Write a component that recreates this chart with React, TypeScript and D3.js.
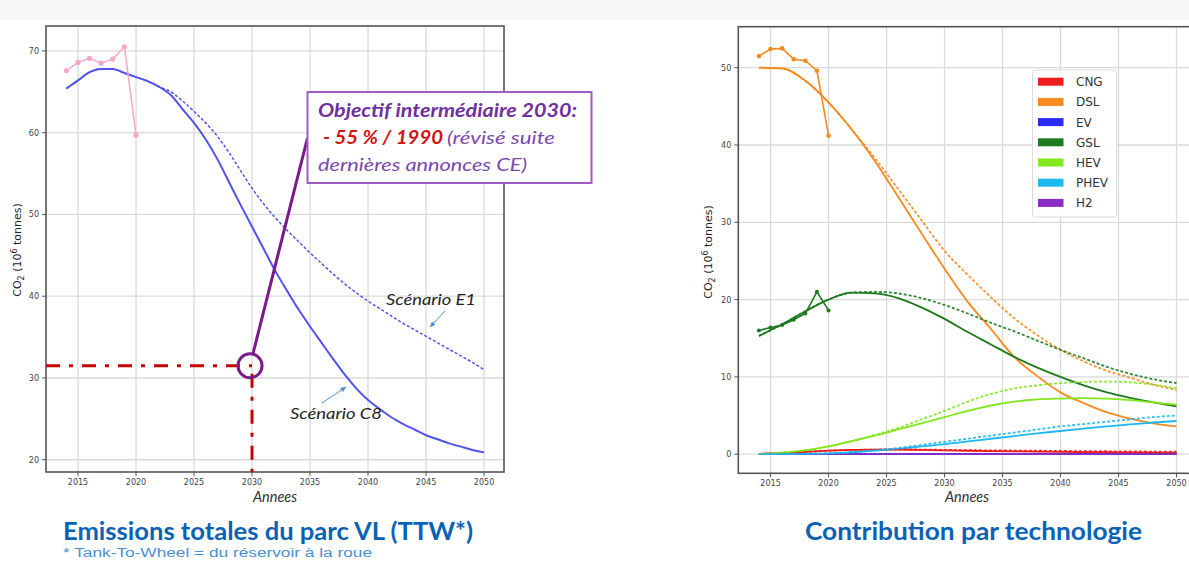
import React from "react";
import * as d3 from "d3";

// ---------- DATA ----------
const histYears = [2014, 2015, 2016, 2017, 2018, 2019, 2020];
const totalHist = [67.6, 68.6, 69.1, 68.5, 69.0, 70.5, 59.7];

const modelYears = [2014, 2015, 2016, 2017, 2018, 2019, 2020, 2021, 2022, 2023, 2024, 2025, 2026, 2027, 2028, 2029, 2030, 2031, 2032, 2033, 2034, 2035, 2036, 2037, 2038, 2039, 2040, 2041, 2042, 2043, 2044, 2045, 2046, 2047, 2048, 2049, 2050];
const scenarioC8 = [65.4, 66.4, 67.4, 67.8, 67.8, 67.3, 66.8, 66.3, 65.6, 64.6, 62.9, 61.2, 59.2, 56.8, 54.0, 51.2, 48.5, 45.8, 43.1, 40.7, 38.4, 36.3, 34.3, 32.3, 30.4, 28.7, 27.3, 26.2, 25.2, 24.4, 23.7, 23.0, 22.5, 22.0, 21.6, 21.2, 20.9];
const scenarioE1 = [65.4, 66.4, 67.4, 67.8, 67.8, 67.3, 66.8, 66.3, 65.6, 65.0, 63.9, 62.6, 61.2, 59.6, 57.6, 55.4, 53.2, 51.3, 49.6, 48.1, 46.7, 45.3, 44.0, 42.7, 41.5, 40.4, 39.4, 38.5, 37.6, 36.7, 35.9, 35.1, 34.3, 33.5, 32.7, 31.9, 31.0];
const target2030Year = 2030;
const target2030Value = 31.5;

const leftXTicks = [2015, 2020, 2025, 2030, 2035, 2040, 2045, 2050];
const leftYTicks = [20, 30, 40, 50, 60, 70];
const rightXTicks = [2015, 2020, 2025, 2030, 2035, 2040, 2045, 2050];
const rightYTicks = [0, 10, 20, 30, 40, 50];

const techNames = ["CNG", "DSL", "EV", "GSL", "HEV", "PHEV", "H2"];
const techColors = ["#ee1c1c", "#f58a1f", "#2b2bf5", "#1e7a1e", "#80e81c", "#1cb8f2", "#8a2cc8"];

const techYears = [2014, 2016, 2018, 2020, 2022, 2024, 2026, 2028, 2030, 2032, 2034, 2036, 2038, 2040, 2042, 2044, 2046, 2048, 2050];
const cngSolid = [0.05, 0.15, 0.3, 0.45, 0.55, 0.6, 0.6, 0.55, 0.5, 0.45, 0.4, 0.37, 0.33, 0.3, 0.27, 0.25, 0.23, 0.21, 0.2];
const cngDashed = [0.05, 0.15, 0.3, 0.45, 0.55, 0.6, 0.62, 0.6, 0.56, 0.52, 0.5, 0.47, 0.45, 0.42, 0.4, 0.38, 0.36, 0.34, 0.32];
const dslSolid = [50.0, 49.9, 48.3, 45.5, 42.0, 37.9, 33.3, 28.6, 24.0, 19.7, 16.2, 12.6, 10.1, 8.0, 6.6, 5.4, 4.6, 4.0, 3.6];
const dslDashed = [50.0, 49.9, 48.3, 45.5, 42.0, 38.3, 34.3, 30.3, 26.3, 23.2, 20.3, 17.6, 15.4, 13.5, 12.0, 10.8, 9.9, 9.0, 8.3];
const evSolid = [0, 0, 0, 0, 0, 0, 0, 0, 0, 0, 0, 0, 0, 0, 0, 0, 0, 0, 0];
const evDashed = [0, 0, 0, 0, 0, 0, 0, 0, 0, 0, 0, 0, 0, 0, 0, 0, 0, 0, 0];
const gslSolid = [15.3, 16.8, 18.5, 20.0, 20.9, 20.8, 20.2, 19.0, 17.5, 15.8, 14.2, 12.6, 11.2, 10.0, 8.9, 8.0, 7.3, 6.7, 6.2];
const gslDashed = [15.3, 16.8, 18.5, 20.0, 20.9, 21.0, 20.8, 20.2, 19.3, 18.2, 17.0, 15.9, 14.7, 13.5, 12.4, 11.3, 10.4, 9.7, 9.2];
const hevSolid = [0, 0.2, 0.5, 1.0, 1.7, 2.4, 3.2, 4.0, 4.8, 5.6, 6.3, 6.8, 7.1, 7.2, 7.25, 7.2, 7.0, 6.7, 6.4];
const hevDashed = [0, 0.2, 0.5, 1.0, 1.7, 2.5, 3.4, 4.5, 5.6, 6.8, 7.8, 8.5, 8.9, 9.2, 9.35, 9.4, 9.3, 9.0, 8.5];
const phevSolid = [0, 0.02, 0.05, 0.1, 0.25, 0.45, 0.7, 1.0, 1.3, 1.65, 2.0, 2.35, 2.7, 3.0, 3.3, 3.6, 3.85, 4.1, 4.3];
const phevDashed = [0, 0.02, 0.05, 0.1, 0.25, 0.5, 0.8, 1.2, 1.6, 2.0, 2.4, 2.8, 3.2, 3.6, 3.9, 4.2, 4.5, 4.8, 5.0];
const h2Solid = [0, 0, 0, 0, 0, 0, 0, 0, 0, 0, 0, 0, 0, 0, 0, 0, 0, 0, 0];
const h2Dashed = [0, 0, 0, 0, 0, 0, 0, 0, 0, 0, 0, 0, 0, 0, 0, 0, 0, 0, 0];

const dslHist = [51.5, 52.4, 52.5, 51.1, 50.9, 49.6, 41.2];
const gslHist = [16.0, 16.4, 16.7, 17.4, 18.2, 21.0, 18.6];

// ---------- SCALES ----------
const W = 1189, H = 565;
const xL = d3.scaleLinear().domain([2012.24, 2051.72]).range([46, 504]);
const yL = d3.scaleLinear().domain([18.5, 73.05]).range([472, 26]);
const xR = d3.scaleLinear().domain([2012.22, 2051.68]).range([738.3, 1196]);
const yR = d3.scaleLinear().domain([-2.47, 55.3]).range([473.3, 26.7]);

const TICK_FONT = "'DejaVu Sans', sans-serif";
const CAL = "Lato, 'Open Sans', sans-serif";

function Frame({ x, y, xTicks, yTicks }: any) {
  const [x0, x1] = x.range();
  const [y1, y0] = y.range();
  return (
    <g>
      {xTicks.map((t: number) => (
        <line key={"gx" + t} x1={x(t)} x2={x(t)} y1={y0} y2={y1} stroke="#dadada" strokeWidth={1.3} />
      ))}
      {yTicks.map((t: number) => (
        <line key={"gy" + t} x1={x0} x2={x1} y1={y(t)} y2={y(t)} stroke="#dadada" strokeWidth={1.3} />
      ))}
      <rect x={x0} y={y0} width={x1 - x0} height={y1 - y0} fill="none" stroke="#555" strokeWidth={1.6} />
      {xTicks.map((t: number) => (
        <g key={"tx" + t}>
          <line x1={x(t)} x2={x(t)} y1={y1} y2={y1 + 4} stroke="#555" strokeWidth={1} />
          <text x={x(t)} y={y1 + 12.5} fontSize={8} fill="#444" textAnchor="middle" fontFamily={TICK_FONT}>{t}</text>
        </g>
      ))}
      {yTicks.map((t: number) => (
        <g key={"ty" + t}>
          <line x1={x0 - 4} x2={x0} y1={y(t)} y2={y(t)} stroke="#555" strokeWidth={1} />
          <text x={x0 - 7} y={y(t) + 3} fontSize={8} fill="#444" textAnchor="end" fontFamily={TICK_FONT}>{t}</text>
        </g>
      ))}
    </g>
  );
}

function YLabel({ x, y }: any) {
  return (
    <text transform={`translate(${x},${y}) rotate(-90)`} textAnchor="middle" fontSize={11} fill="#222" fontFamily={TICK_FONT}>
      CO<tspan fontSize={8} dy={3}>2</tspan><tspan dy={-3}> (10</tspan><tspan fontSize={8} dy={-4}>6</tspan><tspan dy={4}> tonnes)</tspan>
    </text>
  );
}

export default function App() {
  const lineL = (xs: number[], ys: number[]) =>
    d3.line<number>().x((_, i) => xL(xs[i])).y((v) => yL(v)).curve(d3.curveMonotoneX)(ys) as string;
  const lineR = (xs: number[], ys: number[], curve = true) =>
    d3.line<number>().x((_, i) => xR(xs[i])).y((v) => yR(v)).curve(curve ? d3.curveMonotoneX : d3.curveLinear)(ys) as string;

  const solids = [cngSolid, dslSolid, evSolid, gslSolid, hevSolid, phevSolid, h2Solid];
  const dashes = [cngDashed, dslDashed, evDashed, gslDashed, hevDashed, phevDashed, h2Dashed];
  const order = [2, 6, 0, 1, 3, 4, 5];

  const tx = xL(target2030Year);
  const ty = yL(target2030Value);
  const circR = 12;
  const boxEnd = { x: 307.5, y: 138 };
  const ang = Math.atan2(boxEnd.y - ty, boxEnd.x - tx);

  return (
    <svg width={W} height={H} style={{ position: "absolute", left: 0, top: 0, background: "#fff" }}>
      <defs>
        <marker id="arr" viewBox="0 0 10 10" refX="9" refY="5" markerWidth="6" markerHeight="6" orient="auto">
          <path d="M0,1 L10,5 L0,9 z" fill="#4a90d9" />
        </marker>
      </defs>
      <rect x={0} y={0} width={W} height={H} fill="#fff" />
      <rect x={0} y={0} width={W} height={20} fill="#f7f7f7" />

      {/* ---------- LEFT CHART ---------- */}
      <Frame x={xL} y={yL} xTicks={leftXTicks} yTicks={leftYTicks} />
      <path d={lineL(modelYears, scenarioE1)} fill="none" stroke="#5252ee" strokeWidth={1.5} strokeDasharray="3,2" />
      <path d={lineL(modelYears, scenarioC8)} fill="none" stroke="#5252ee" strokeWidth={2} />
      <path d={d3.line<number>().x((_, i) => xL(histYears[i])).y((v) => yL(v))(totalHist) as string} fill="none" stroke="#f6a9c2" strokeWidth={1.5} />
      {totalHist.map((v, i) => (
        <circle key={"h" + i} cx={xL(histYears[i])} cy={yL(v)} r={2.6} fill="#f6a9c2" />
      ))}

      {/* target dash-dot lines */}
      <line x1={xL.range()[0]} x2={tx} y1={ty} y2={ty} stroke="#c40000" strokeWidth={3} strokeDasharray="14,9,4,9" />
      <line x1={tx} x2={tx} y1={ty} y2={yL.range()[0]} stroke="#c40000" strokeWidth={3} strokeDasharray="14,9,4,9" strokeDashoffset={-8} />
      <circle cx={tx - 2} cy={ty} r={circR} fill="none" stroke="#7a1a8a" strokeWidth={3} />
      <line x1={tx - 2 + circR * Math.cos(ang)} y1={ty + circR * Math.sin(ang)} x2={boxEnd.x} y2={boxEnd.y} stroke="#7a1a8a" strokeWidth={3} />

      {/* annotation box */}
      <rect x={307.5} y={92} width={284} height={91} fill="#fff" stroke="#a05cc0" strokeWidth={2} />
      <text x={318} y={117} fontSize={18} fontWeight="bold" fontStyle="italic" fill="#7030a0" fontFamily={CAL} textLength={259} lengthAdjust="spacingAndGlyphs">Objectif intermédiaire 2030:</text>
      <text x={323} y={144} fontSize={18} fontWeight="bold" fontStyle="italic" fill="#d41414" fontFamily={CAL} textLength={120} lengthAdjust="spacingAndGlyphs">- 55 % / 1990</text>
      <text x={447} y={144} fontSize={18} fontStyle="italic" fill="#7a48b0" fontFamily={CAL} textLength={108} lengthAdjust="spacingAndGlyphs">(révisé suite</text>
      <text x={318} y={171} fontSize={18} fontStyle="italic" fill="#7a48b0" fontFamily={CAL} textLength={209} lengthAdjust="spacingAndGlyphs">dernières annonces CE)</text>

      {/* scenario labels */}
      <text x={386} y={305} fontSize={15} fontStyle="italic" fill="#222" fontFamily={CAL} textLength={90} lengthAdjust="spacingAndGlyphs">Scénario E1</text>
      <line x1={445} y1={311} x2={430} y2={327} stroke="#4a90d9" strokeWidth={1} markerEnd="url(#arr)" />
      <text x={290} y={419} fontSize={15} fontStyle="italic" fill="#222" fontFamily={CAL} textLength={92} lengthAdjust="spacingAndGlyphs">Scénario C8</text>
      <line x1={322} y1={403} x2={346} y2={387} stroke="#4a90d9" strokeWidth={1} markerEnd="url(#arr)" />

      <text x={275} y={502} fontSize={14.5} fontStyle="italic" fill="#333" textAnchor="middle" fontFamily={CAL}>Annees</text>
      <YLabel x={21} y={250} />

      <text x={63} y={540} fontSize={24} fontWeight="bold" fill="#0b62b5" fontFamily={CAL} textLength={410} lengthAdjust="spacingAndGlyphs">Emissions totales du parc VL (TTW*)</text>
      <text x={63} y={557} fontSize={12.5} fill="#4a8fd2" fontFamily="'Liberation Sans', Arial, sans-serif" textLength={309} lengthAdjust="spacingAndGlyphs">* Tank-To-Wheel = du réservoir à la roue</text>

      {/* ---------- RIGHT CHART ---------- */}
      <Frame x={xR} y={yR} xTicks={rightXTicks} yTicks={rightYTicks} />
      {order.map((k) => (
        <path key={"s" + k} d={lineR(techYears, solids[k])} fill="none" stroke={techColors[k]} strokeWidth={1.8} />
      ))}
      {order.map((k) => (
        <path key={"d" + k} d={lineR(techYears, dashes[k])} fill="none" stroke={techColors[k]} strokeWidth={1.8} strokeDasharray="3,2" opacity={0.9} />
      ))}
      <path d={lineR(histYears, dslHist, false)} fill="none" stroke={techColors[1]} strokeWidth={1.6} />
      {dslHist.map((v, i) => (
        <circle key={"dh" + i} cx={xR(histYears[i])} cy={yR(v)} r={2.3} fill={techColors[1]} />
      ))}
      <path d={lineR(histYears, gslHist, false)} fill="none" stroke={techColors[3]} strokeWidth={1.6} />
      {gslHist.map((v, i) => (
        <circle key={"gh" + i} cx={xR(histYears[i])} cy={yR(v)} r={2} fill={techColors[3]} />
      ))}

      {/* legend */}
      <rect x={1032.5} y={70} width={84} height={147} rx={3} fill="#fff" fillOpacity={0.9} stroke="#dcdcdc" strokeWidth={1} />
      {techNames.map((n, i) => (
        <g key={"lg" + n}>
          <rect x={1038} y={81.7 + i * 20.2 - 4} width={25.5} height={8} fill={techColors[i]} />
          <text x={1076} y={81.7 + i * 20.2 + 4.5} fontSize={12} fill="#333" fontFamily={TICK_FONT}>{n}</text>
        </g>
      ))}

      <text x={967} y={502} fontSize={14.5} fontStyle="italic" fill="#333" textAnchor="middle" fontFamily={CAL}>Annees</text>
      <YLabel x={712} y={252} />

      <text x={805} y={540} fontSize={24} fontWeight="bold" fill="#0b62b5" fontFamily={CAL} textLength={337} lengthAdjust="spacingAndGlyphs">Contribution par technologie</text>
    </svg>
  );
}
